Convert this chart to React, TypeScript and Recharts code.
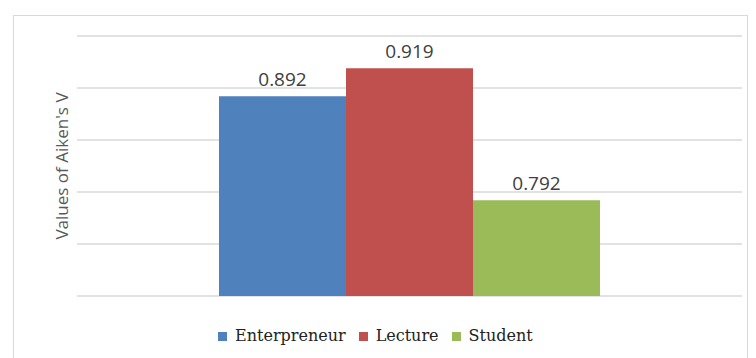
import { Bar, BarChart, CartesianGrid, LabelList, Legend, XAxis, YAxis } from 'recharts'

const categories = ['Aiken']
const seriesNames = ['Enterpreneur', 'Lecture', 'Student']
const seriesValues = [0.892, 0.919, 0.792]
const seriesColors = ['#4F81BD', '#C0504D', '#9BBB59']
const yTicks = [0.7, 0.75, 0.8, 0.85, 0.9, 0.95]

const data = categories.map((c) => {
  const row: Record<string, string | number> = { name: c }
  seriesNames.forEach((s, i) => {
    row[s] = seriesValues[i]
  })
  return row
})

function LegendBox({ payload }: any) {
  return (
    <div style={{ display: 'flex', paddingLeft: 218, fontFamily: '"DejaVu Serif", serif', fontSize: 16, color: '#222', lineHeight: '20px' }}>
      {(payload || []).map((p: any) => (
        <span key={p.value} style={{ display: 'flex', alignItems: 'center', marginRight: 13 }}>
          <span style={{ width: 9, height: 9, background: p.color, marginRight: 8, display: 'inline-block' }} />
          {p.value}
        </span>
      ))}
    </div>
  )
}

export default function App() {
  return (
    <div style={{ position: 'absolute', left: 0, top: 0, width: 756, height: 358, background: '#fff', overflow: 'hidden' }}>
      <div style={{ position: 'absolute', left: 13, top: 15, width: 733, height: 400, border: '1px solid #d9d9d9' }} />
      <BarChart
        width={756}
        height={358}
        data={data}
        margin={{ top: 36, right: 14, left: 47, bottom: 12 }}
        barGap={0}
        style={{ position: 'absolute', left: 0, top: 0 }}
      >
        <CartesianGrid vertical={false} stroke="#d9d9d9" strokeWidth={1.5} />
        <XAxis dataKey="name" tick={false} axisLine={false} tickLine={false} height={30} />
        <YAxis
          domain={[0.7, 0.95]}
          ticks={yTicks}
          tick={() => <g />}
          axisLine={false}
          tickLine={false}
          width={30}
          label={{
            value: "Values of Aiken's V",
            angle: -90,
            position: 'center',
            fill: '#595959',
            fontSize: 17,
            fontFamily: '"Open Sans", sans-serif',
          }}
        />
        <Legend verticalAlign="bottom" height={20} wrapperStyle={{ left: 0, width: 756 }} content={<LegendBox />} />
        {seriesNames.map((s, i) => (
          <Bar key={s} dataKey={s} fill={seriesColors[i]} barSize={127} isAnimationActive={false}>
            <LabelList
              dataKey={s}
              position="top"
              offset={10}
              fill="#404040"
              fontSize={19}
              fontFamily='"Open Sans", sans-serif'
            />
          </Bar>
        ))}
      </BarChart>
    </div>
  )
}
